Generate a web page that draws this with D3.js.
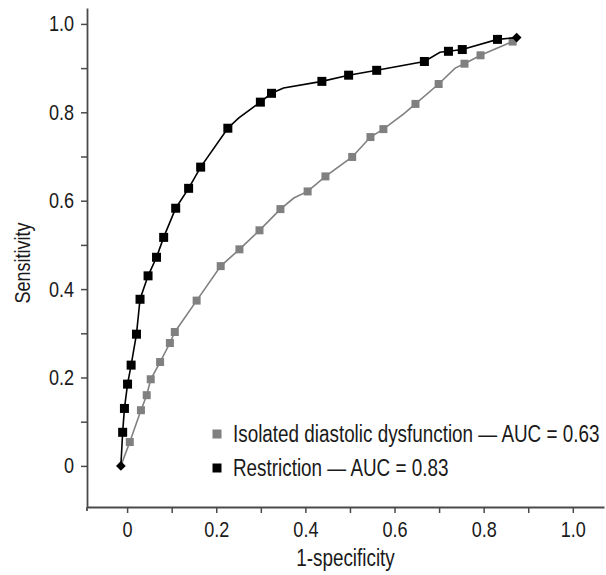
<!DOCTYPE html>
<html>
<head>
<meta charset="utf-8">
<script src="https://cdn.jsdelivr.net/npm/d3@7"></script>
<style>
    body { margin: 0; background: #fff; }
    svg text { font-family: "Liberation Sans", Arial, sans-serif; }
</style>
</head>
<body>
<div id="chart"></div>
<script>
// Restriction curve (black); mark = 1 draws a square, 0 is a bare line vertex
const restrictionX = [-0.014, -0.010, -0.006, 0.001, 0.009, 0.021, 0.029, 0.047, 0.066, 0.082, 0.109, 0.138, 0.165, 0.226, 0.250, 0.299, 0.324, 0.351, 0.437, 0.497, 0.560, 0.667, 0.702, 0.721, 0.752, 0.831, 0.874];
const restrictionY = [0.000, 0.076, 0.130, 0.185, 0.228, 0.298, 0.377, 0.430, 0.472, 0.517, 0.583, 0.628, 0.676, 0.764, 0.787, 0.823, 0.843, 0.855, 0.870, 0.884, 0.895, 0.915, 0.936, 0.938, 0.942, 0.965, 0.969];
const restrictionMark = [0, 1, 1, 1, 1, 1, 1, 1, 1, 1, 1, 1, 1, 1, 0, 1, 1, 0, 1, 1, 1, 1, 0, 1, 1, 1, 0];

// Isolated diastolic dysfunction curve (gray)
const isolatedX = [-0.014, 0.006, 0.031, 0.044, 0.053, 0.074, 0.096, 0.107, 0.156, 0.210, 0.252, 0.297, 0.344, 0.374, 0.405, 0.445, 0.505, 0.546, 0.575, 0.620, 0.647, 0.699, 0.736, 0.757, 0.793, 0.865, 0.874];
const isolatedY = [0.000, 0.054, 0.126, 0.160, 0.196, 0.235, 0.278, 0.303, 0.374, 0.452, 0.490, 0.533, 0.581, 0.606, 0.621, 0.655, 0.699, 0.744, 0.762, 0.796, 0.819, 0.864, 0.900, 0.910, 0.929, 0.960, 0.969];
const isolatedMark = [0, 1, 1, 1, 1, 1, 1, 1, 1, 1, 1, 1, 1, 0, 1, 1, 1, 1, 1, 0, 1, 1, 0, 1, 1, 1, 0];

// shared end points drawn as diamonds
const endX = [-0.014, 0.874];
const endY = [0.000, 0.969];

const legendLabels = ["Isolated diastolic dysfunction \u2014 AUC = 0.63", "Restriction \u2014 AUC = 0.83"];
const tickValues = [0, 0.1, 0.2, 0.3, 0.4, 0.5, 0.6, 0.7, 0.8, 0.9, 1.0];
const labelledTicks = [0, 0.2, 0.4, 0.6, 0.8, 1.0];

const width = 606, height = 575;
const narrow = 0.82; // squeeze Liberation Sans to look like a narrow face

const svg = d3.select('#chart').append('svg')
    .attr('width', width)
    .attr('height', height);

// scales: the axes run a bit past 0 and 1 on both sides
const x = d3.scaleLinear().domain([-0.09, 1.07]).range([87, 604]);
const y = d3.scaleLinear().domain([-0.093, 1.036]).range([507, 8]);

const axisColor = '#4a4a4a';
const fmt = d => labelledTicks.some(t => Math.abs(t - d) < 1e-9) ? (d === 0 ? '0' : d3.format('.1f')(d)) : '';

// x axis
const gx = svg.append('g')
    .attr('transform', `translate(0,${y(-0.093)})`)
    .call(d3.axisBottom(x).tickValues(tickValues).tickFormat(fmt).tickSize(6).tickSizeOuter(0).tickPadding(8));

// y axis
const gy = svg.append('g')
    .attr('transform', `translate(${x(-0.09)},0)`)
    .call(d3.axisLeft(y).tickValues(tickValues).tickFormat(fmt).tickSize(6).tickSizeOuter(0).tickPadding(7));

[gx, gy].forEach(g => {
    g.select('.domain').attr('stroke', axisColor).attr('stroke-width', 1.8);
    g.selectAll('.tick line').attr('stroke', axisColor).attr('stroke-width', 1.5);
    g.selectAll('.tick text').attr('fill', '#1a1a1a').style('font-size', '22px').style('font-family', null);
});

// small stub of the y axis below the corner
svg.append('line')
    .attr('x1', x(-0.09)).attr('x2', x(-0.09))
    .attr('y1', y(-0.093)).attr('y2', y(-0.093) + 4)
    .attr('stroke', axisColor).attr('stroke-width', 1.8);

// axis titles
svg.append('text')
    .attr('x', (x(-0.09) + x(1.07)) / 2)
    .attr('y', 566)
    .attr('text-anchor', 'middle')
    .style('font-size', '23px')
    .style('fill', '#1a1a1a')
    .text('1-specificity');

svg.append('text')
    .attr('transform', 'translate(30,263) rotate(-90)')
    .attr('text-anchor', 'middle')
    .style('font-size', '22px')
    .style('fill', '#1a1a1a')
    .text('Sensitivity');

// build the two series from the arrays
const isolated = isolatedX.map((v, i) => ({x: v, y: isolatedY[i], mark: isolatedMark[i]}));
const restriction = restrictionX.map((v, i) => ({x: v, y: restrictionY[i], mark: restrictionMark[i]}));

const line = d3.line().x(d => x(d.x)).y(d => y(d.y));

const series = [
    {data: isolated, color: '#808080', size: 8},
    {data: restriction, color: '#000000', size: 9}
];

series.forEach(s => {
    svg.append('path')
        .datum(s.data)
        .attr('d', line)
        .attr('fill', 'none')
        .attr('stroke', s.color)
        .attr('stroke-width', 1.6);

    svg.selectAll(null)
        .data(s.data.filter(d => d.mark))
        .enter().append('rect')
        .attr('x', d => x(d.x) - s.size / 2)
        .attr('y', d => y(d.y) - s.size / 2)
        .attr('width', s.size)
        .attr('height', s.size)
        .attr('fill', s.color);
});

// diamonds at the ends
svg.selectAll('.end')
    .data(endX.map((v, i) => ({x: v, y: endY[i]})))
    .enter().append('path')
    .attr('class', 'end')
    .attr('transform', d => `translate(${x(d.x)},${y(d.y)})`)
    .attr('d', d3.symbol().type(d3.symbolDiamond2).size(60))
    .attr('fill', '#000');

// legend
const legend = svg.append('g').attr('transform', 'translate(217,434)');
legendLabels.forEach((label, i) => {
    const row = legend.append('g').attr('transform', `translate(0,${i * 34})`);
    row.append('rect')
        .attr('x', -4.5).attr('y', -4.5)
        .attr('width', 9).attr('height', 9)
        .attr('fill', series[i].color);
    row.append('text')
        .attr('x', 16)
        .attr('y', 8)
        .style('font-size', '23px')
        .style('fill', '#1a1a1a')
        .text(label);
});

// condense every label horizontally
svg.selectAll('text').each(function () {
    const len = this.getComputedTextLength();
    d3.select(this)
        .attr('textLength', len * narrow)
        .attr('lengthAdjust', 'spacingAndGlyphs');
});
</script>
</body>
</html>
